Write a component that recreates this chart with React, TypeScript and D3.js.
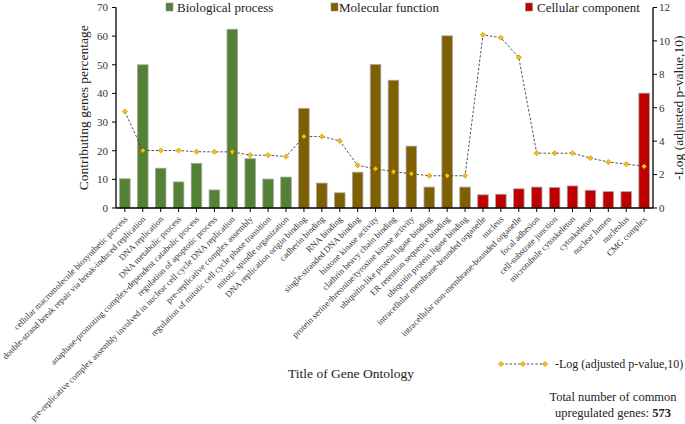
import React from "react";
import * as d3 from "d3";

const categories = [
  "cellular macromolecule biosynthetic process",
  "double-strand break repair via break-induced replication",
  "DNA replication",
  "DNA metabolic process",
  "anaphase-promoting complex-dependent catabolic process",
  "regulation of apoptotic process",
  "pre-replicative complex assembly involved in nuclear cell cycle DNA replication",
  "pre-replicative complex assembly",
  "regulation of mitotic cell cycle phase transition",
  "mitotic spindle organization",
  "DNA replication origin binding",
  "cadherin binding",
  "RNA binding",
  "single-stranded DNA binding",
  "histone kinase activity",
  "clathrin heavy chain binding",
  "protein serine/threonine/tyrosine kinase activity",
  "ubiquitin-like protein ligase binding",
  "ER retention sequence binding",
  "ubiquitin protein ligase binding",
  "intracellular membrane-bounded organelle",
  "nucleus",
  "intracellular non-membrane-bounded organelle",
  "focal adhesion",
  "cell-substrate junction",
  "microtubule cytoskeleton",
  "cytoskeleton",
  "nuclear lumen",
  "nucleolus",
  "CMG complex",
];

const groups = [
  "BP", "BP", "BP", "BP", "BP", "BP", "BP", "BP", "BP", "BP",
  "MF", "MF", "MF", "MF", "MF", "MF", "MF", "MF", "MF", "MF",
  "CC", "CC", "CC", "CC", "CC", "CC", "CC", "CC", "CC", "CC",
];

const percentages = [
  10.2, 50, 13.9, 9.1, 15.6, 6.3, 62.4, 17.2, 10.1, 10.8,
  34.8, 8.7, 5.3, 12.5, 50.1, 44.6, 21.6, 7.3, 60.1, 7.3,
  4.6, 4.8, 6.7, 7.3, 7.2, 7.7, 6.2, 5.7, 5.7, 40.1,
];

const logP = [
  5.77, 3.44, 3.44, 3.44, 3.37, 3.36, 3.36, 3.16, 3.16, 3.08,
  4.28, 4.28, 4.02, 2.55, 2.35, 2.17, 2.05, 1.93, 1.93, 1.93,
  10.37, 10.19, 9.01, 3.28, 3.28, 3.28, 2.99, 2.75, 2.63, 2.49,
];

const legendItems = [
  { key: "BP", label: "Biological process" },
  { key: "MF", label: "Molecular function" },
  { key: "CC", label: "Cellular component" },
];

const leftTicks = [0, 10, 20, 30, 40, 50, 60, 70];
const rightTicks = [0, 2, 4, 6, 8, 10, 12];

const colors: Record<string, string> = { BP: "#548235", MF: "#7f6000", CC: "#c00000" };

const FONT = '"Liberation Serif", "Times New Roman", Times, serif';

export default function App() {
  const x0 = 116;
  const x1 = 653;
  const yBottom = 208;
  const yTop = 7.5;

  const x = d3
    .scaleBand<number>()
    .domain(d3.range(categories.length))
    .range([x0, x1])
    .paddingInner(0.41)
    .paddingOuter(0.2);
  const yL = d3.scaleLinear().domain([0, 70]).range([yBottom, yTop]);
  const yR = d3.scaleLinear().domain([0, 12]).range([yBottom, yTop]);
  const cx = (i: number) => (x(i) as number) + x.bandwidth() / 2;

  const line = d3
    .line<number>()
    .x((_, i) => cx(i))
    .y((d) => yR(d));

  const diamond = (px: number, py: number, r: number) =>
    `M${px},${py - r}L${px + r},${py}L${px},${py + r}L${px - r},${py}Z`;

  const legendPos = [
    { sx: 166, tx: 177 },
    { sx: 331, tx: 339 },
    { sx: 525.5, tx: 537 },
  ];

  return (
    <svg
      width={685}
      height={424}
      style={{ position: "absolute", left: 0, top: 0, background: "#fff", fontFamily: FONT }}
    >
      {/* bars */}
      {percentages.map((v, i) => (
        <rect
          key={i}
          x={x(i)}
          y={yL(v)}
          width={x.bandwidth()}
          height={yBottom - yL(v)}
          fill={colors[groups[i]]}
          stroke="#a6a6a6"
          strokeWidth={0.8}
        />
      ))}

      {/* line */}
      <path d={line(logP) || ""} fill="none" stroke="#404040" strokeWidth={0.9} strokeDasharray="2.5,1.8" />
      {logP.map((v, i) => (
        <path key={i} d={diamond(cx(i), yR(v), 2.6)} fill="#ffc000" stroke="#9c7a00" strokeWidth={0.5} />
      ))}

      {/* left axis */}
      <line x1={x0} x2={x0} y1={yTop} y2={yBottom} stroke="#000" strokeWidth={1.3} />
      {leftTicks.map((t) => (
        <g key={t}>
          <line x1={x0 - 4} x2={x0} y1={yL(t)} y2={yL(t)} stroke="#000" strokeWidth={1} />
          <text x={x0 - 8} y={yL(t)} dy="0.35em" textAnchor="end" fontSize={11} fill="#333">
            {t}
          </text>
        </g>
      ))}
      <text
        transform={`translate(83,${(yTop + yBottom) / 2}) rotate(-90)`}
        textAnchor="middle"
        dy="0.35em"
        fontSize={13.5}
        fill="#222"
      >
        Contributing genes percentage
      </text>

      {/* right axis */}
      <line x1={x1} x2={x1} y1={yTop} y2={yBottom} stroke="#000" strokeWidth={1.3} />
      {rightTicks.map((t) => (
        <g key={t}>
          <line x1={x1} x2={x1 + 4} y1={yR(t)} y2={yR(t)} stroke="#000" strokeWidth={1} />
          <text x={x1 + 6} y={yR(t)} dy="0.35em" textAnchor="start" fontSize={11} fill="#333">
            {t}
          </text>
        </g>
      ))}
      <text
        transform={`translate(678,${(yTop + yBottom) / 2}) rotate(-90)`}
        textAnchor="middle"
        dy="0.35em"
        fontSize={13.5}
        fill="#222"
      >
        -Log (adjusted p-value,10)
      </text>

      {/* x axis */}
      <line x1={x0} x2={x1} y1={yBottom} y2={yBottom} stroke="#000" strokeWidth={1.3} />
      {categories.map((c, i) => (
        <g key={c}>
          <line x1={cx(i)} x2={cx(i)} y1={yBottom} y2={yBottom + 4} stroke="#000" strokeWidth={1} />
          <text
            transform={`translate(${cx(i) + 1},${yBottom + 9.5}) rotate(-45)`}
            textAnchor="end"
            dy="0.35em"
            fontSize={8.8}
            fill="#333"
          >
            {c}
          </text>
        </g>
      ))}
      <text x={351} y={378} textAnchor="middle" fontSize={13.5} fill="#222">
        Title of Gene Ontology
      </text>

      {/* top legend */}
      {legendItems.map((l, i) => (
        <g key={l.key}>
          <rect x={legendPos[i].sx} y={3} width={7} height={8} fill={colors[l.key]} stroke="#888" strokeWidth={0.5} />
          <text x={legendPos[i].tx} y={7} dy="0.35em" fontSize={13} fill="#222">
            {l.label}
          </text>
        </g>
      ))}

      {/* bottom legend */}
      <line x1={501} x2={545} y1={364} y2={364} stroke="#404040" strokeWidth={0.9} strokeDasharray="2.5,1.8" />
      {[501, 523, 545].map((px) => (
        <path key={px} d={diamond(px, 364, 2.6)} fill="#ffc000" stroke="#9c7a00" strokeWidth={0.5} />
      ))}
      <text x={555} y={364} dy="0.35em" fontSize={12} fill="#222">
        -Log (adjusted p-value,10)
      </text>
      <text x={613} y={397} dy="0.35em" textAnchor="middle" fontSize={12.5} fill="#222">
        Total number of common
      </text>
      <text x={613} y={413} dy="0.35em" textAnchor="middle" fontSize={12.5} fill="#222">
        upregulated genes: <tspan fontWeight="bold">573</tspan>
      </text>
    </svg>
  );
}
